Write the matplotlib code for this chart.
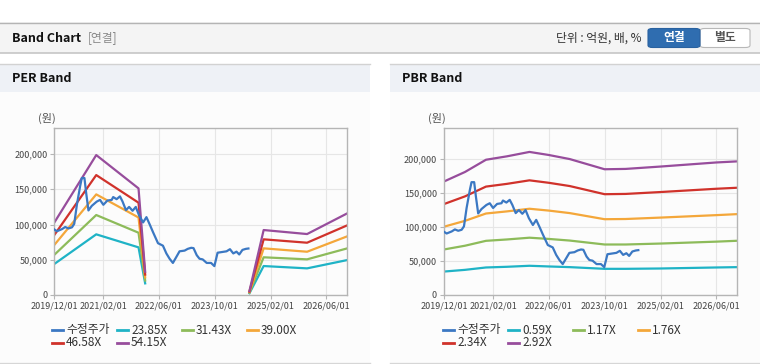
import numpy as np
import pandas as pd
import matplotlib
matplotlib.use("Agg")
from matplotlib import pyplot as plt
from matplotlib.patches import Rectangle, FancyBboxPatch
from matplotlib.lines import Line2D
from matplotlib.ticker import FuncFormatter

plt.rcParams['font.family'] = ['Noto Sans CJK KR', 'DejaVu Sans']

# ---- data ----
price_dates = ['2019-12-01', '2019-12-24', '2020-02-06', '2020-03-05', '2020-04-03', '2020-05-03',
               '2020-05-23', '2020-06-15', '2020-07-14', '2020-07-28', '2020-08-20', '2020-09-04',
               '2020-09-24', '2020-10-23', '2020-12-05', '2021-01-03', '2021-02-01', '2021-03-08',
               '2021-04-15', '2021-04-28', '2021-05-28', '2021-06-26', '2021-07-19', '2021-08-17',
               '2021-09-14', '2021-10-14', '2021-11-11', '2021-12-10', '2022-01-14', '2022-02-12',
               '2022-03-13', '2022-04-11', '2022-05-24', '2022-07-06', '2022-08-05', '2022-09-02',
               '2022-10-01', '2022-10-31', '2022-11-28', '2023-01-11', '2023-02-08', '2023-03-10',
               '2023-03-30', '2023-04-27', '2023-05-21', '2023-06-18', '2023-07-23', '2023-08-30',
               '2023-09-28', '2023-10-26', '2023-12-04', '2024-01-12', '2024-02-11', '2024-03-11',
               '2024-04-08', '2024-05-02', '2024-05-30', '2024-06-29', '2024-07-21']
price_vals = [93000, 90500, 93500, 96500, 94500, 96000,
              101000, 128000, 155000, 166000, 166000, 145000,
              120000, 126500, 132500, 135000, 128000, 134000,
              135000, 139000, 136000, 140000, 132500, 120500,
              125000, 119500, 125000, 113000, 103000, 110500,
              100000, 89000, 73500, 70000, 59000, 51500,
              45500, 54000, 62000, 63000, 65500, 67000,
              66500, 56500, 51500, 50500, 45500, 45500,
              41000, 60000, 61000, 62000, 65000, 59000,
              61500, 57500, 64000, 65500, 66000]

# PER band (gap between the two segments = None)
per_dates = ['2019-12-01', '2020-12-01', '2021-12-05', '2022-02-01', '2023-05-01',
             '2024-07-30', '2024-12-01', '2025-12-15', '2026-12-01']
per_labels = ['23.85X', '31.43X', '39.00X', '46.58X', '54.15X']
per_2385 = [44000, 86100, 67600, 16500, None, 2500, 41100, 37800, 49600]
per_3143 = [57000, 113500, 88400, 20500, None, 3300, 53500, 50600, 66200]
per_3900 = [71000, 142800, 110000, 25000, None, 4100, 66200, 61400, 83300]
per_4658 = [85100, 170200, 131000, 29000, None, 4900, 79000, 74200, 98900]
per_5415 = [102800, 198600, 151300, 33000, None, 5700, 92200, 86500, 115900]

# PBR band
pbr_dates = ['2019-12-01', '2020-06-01', '2020-12-01', '2021-06-01', '2021-12-15', '2022-06-01',
             '2022-12-01', '2023-10-01', '2024-04-01', '2025-02-01', '2026-06-01', '2026-12-01']
pbr_labels = ['0.59X', '1.17X', '1.76X', '2.34X', '2.92X']
pbr_059 = [34500, 37000, 40500, 41500, 43000, 42000, 41000, 38500, 38500, 39000, 40500, 41000]
pbr_117 = [67000, 72500, 79700, 81700, 84300, 82500, 80100, 74300, 74300, 75700, 78500, 79800]
pbr_176 = [100500, 109100, 119900, 123000, 126900, 124200, 120500, 111500, 111800, 113900, 117500, 119000]
pbr_234 = [133800, 145100, 159500, 163500, 168700, 165100, 160300, 148300, 148700, 151500, 156300, 157800]
pbr_292 = [167000, 181000, 199000, 204000, 210500, 206000, 200000, 185000, 185500, 189000, 195000, 196600]

price_label = '수정주가'
xtick_dates = ['2019/12/01', '2021/02/01', '2022/06/01', '2023/10/01', '2025/02/01', '2026/06/01']

colors = ['#1fb3c6', '#8dbb5a', '#f4a73a', '#d0322b', '#974d9c']
price_color = '#3b78c3'

W, H = 760, 364
fig = plt.figure(figsize=(W / 100, H / 100), dpi=100)


def fx(x):
    return x / W


def fy(y):
    return 1 - y / H


def rect(x0, y0, x1, y1, **kw):
    fig.patches.append(Rectangle((fx(x0), fy(y1)), fx(x1) - fx(x0), fy(y0) - fy(y1),
                                 transform=fig.transFigure, zorder=-5, **kw))


def hline(x0, x1, y, color, lw=1):
    fig.add_artist(Line2D([fx(x0), fx(x1)], [fy(y), fy(y)], color=color, lw=lw,
                          transform=fig.transFigure, zorder=-4))


# ---- page header ----
rect(0, 22, 760, 53, facecolor='#f4f4f4', edgecolor='none')
hline(0, 760, 22.5, '#b4b4b4')
hline(0, 760, 53, '#c6c6c6', lw=1.2)
fig.text(fx(12), fy(38), 'Band Chart', fontsize=9, fontweight='bold', color='#111', va='center')
fig.text(fx(88), fy(38), '[연결]', fontsize=8.5, color='#888', va='center')
fig.text(fx(641), fy(38), '단위 : 억원, 배, %', fontsize=8.5, color='#333', va='center', ha='right')
fig.patches.append(FancyBboxPatch((fx(700), fy(47.5)), fx(750) - fx(700), fy(28.5) - fy(47.5),
                                  boxstyle='round,pad=0,rounding_size=0.006', transform=fig.transFigure,
                                  facecolor='white', edgecolor='#b8b8b8', lw=0.8))
fig.patches.append(FancyBboxPatch((fx(648), fy(47.5)), fx(700) - fx(648), fy(28.5) - fy(47.5),
                                  boxstyle='round,pad=0,rounding_size=0.006', transform=fig.transFigure,
                                  facecolor='#2f6db0', edgecolor='#2a62a0', lw=0.8))
fig.text(fx(674), fy(38), '연결', fontsize=8.5, fontweight='bold', color='white', va='center', ha='center')
fig.text(fx(725), fy(38), '별도', fontsize=8.5, fontweight='bold', color='#555', va='center', ha='center')

# ---- panels ----
panels = [(0, 370, 'PER Band'), (390, 760, 'PBR Band')]
for x0, x1, title in panels:
    rect(x0, 64, x1, 92, facecolor='#eef1f6', edgecolor='none')
    rect(x0, 92, x1, 362, facecolor='#fcfcfc', edgecolor='none')
    hline(x0, x1, 64, '#d2d2d2')
    hline(x0, x1, 362.5, '#d6d6d6')
    fig.text(fx(x0 + 12), fy(79), title, fontsize=9, fontweight='bold', color='#111', va='center')

fmt = FuncFormatter(lambda v, p: f'{int(v):,}')
xlim = (pd.Timestamp('2019-12-01'), pd.Timestamp('2026-12-01'))
xticks = pd.to_datetime(xtick_dates, format='%Y/%m/%d')


def setup(ax, ymax):
    ax.set_facecolor('#fcfcfc')
    ax.set_xlim(*xlim)
    ax.set_ylim(0, ymax)
    ax.set_xticks(xticks)
    ax.set_xticklabels(xtick_dates)
    ax.set_yticks([0, 50000, 100000, 150000, 200000])
    ax.yaxis.set_major_formatter(fmt)
    ax.grid(True, color='#e6e6e6', lw=0.8)
    ax.set_axisbelow(True)
    for s in ax.spines.values():
        s.set_color('#b5b5b5')
        s.set_linewidth(1.0)
    ax.tick_params(labelsize=6.5, colors='#b5b5b5', labelcolor='#444', length=3, width=0.8, pad=2)


def legend(x0, names, cols):
    for i, (name, c) in enumerate(zip(names, cols)):
        lx = x0 + (i % 4) * 65
        ly = 330 + (i // 4) * 13
        fig.add_artist(Line2D([fx(lx), fx(lx + 11)], [fy(ly), fy(ly)], color=c, lw=2,
                              transform=fig.transFigure))
        fig.text(fx(lx + 14), fy(ly), name, fontsize=8.5, color='#333', va='center')


price_x = pd.to_datetime(price_dates)

# PER
ax1 = fig.add_axes([fx(54.3), fy(295), fx(347.3) - fx(54.3), fy(128) - fy(295)])
setup(ax1, 237000)
per_x = pd.to_datetime(per_dates)
for vals, c in zip([per_2385, per_3143, per_3900, per_4658, per_5415], colors):
    ax1.plot(per_x, np.array(vals, dtype=float), color=c, lw=1.6, zorder=2)
ax1.plot(price_x, price_vals, color=price_color, lw=1.6, zorder=3)
fig.text(fx(38), fy(118), '(원)', fontsize=8, color='#555', va='center')
legend(52, [price_label] + per_labels, [price_color] + colors)

# PBR
ax2 = fig.add_axes([fx(444), fy(295), fx(737.3) - fx(444), fy(128) - fy(295)])
setup(ax2, 245700)
pbr_x = pd.to_datetime(pbr_dates)
for vals, c in zip([pbr_059, pbr_117, pbr_176, pbr_234, pbr_292], colors):
    ax2.plot(pbr_x, vals, color=c, lw=1.6, zorder=2)
ax2.plot(price_x, price_vals, color=price_color, lw=1.6, zorder=3)
fig.text(fx(428), fy(118), '(원)', fontsize=8, color='#555', va='center')
legend(443, [price_label] + pbr_labels, [price_color] + colors)

fig.savefig('out.png', dpi=100)
